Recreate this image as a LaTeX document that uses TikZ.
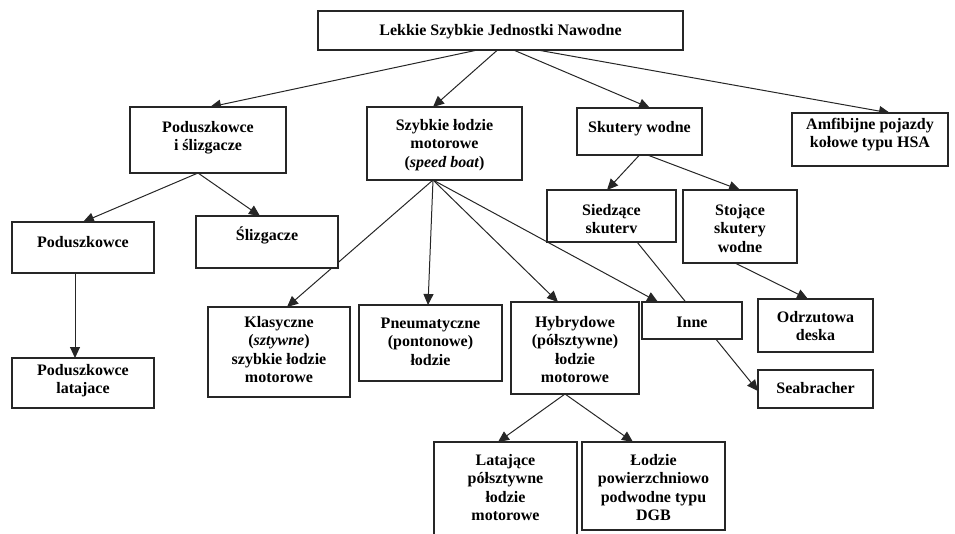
\documentclass[tikz,border=0pt]{standalone}
\usepackage{fontspec}
\setmainfont{Liberation Serif}
\usetikzlibrary{arrows.meta}
\pgfdeclarelayer{bg}
\pgfsetlayers{bg,main}
\tikzset{
  boxst/.style={draw=black!85, line width=1.1pt, fill=white, inner sep=0pt, outer sep=0pt,
    font=\fontsize{16}{18.5}\selectfont\bfseries},
  arr/.style={draw=black!85, line width=1pt, -{Triangle[length=11pt,width=10pt]}},
  ln/.style={draw=black!85, line width=1pt}
}
\newcommand\bx[7]{\node[boxst, anchor=north west] (#1) at (#2,#3)
  {\parbox[t][\dimexpr#5pt-#3pt\relax][t]{\dimexpr#4pt-#2pt\relax}{\centering\rule{0pt}{#6pt}#7}};}
\begin{document}
\begin{tikzpicture}[x=1pt,y=-1pt]
\useasboundingbox (0,0) rectangle (955,533);
\bx{top}{318}{11}{683}{50}{24}{Lekkie Szybkie Jednostki Nawodne}
\bx{pis}{130}{107}{286}{173}{25}{Poduszkowce\\ i ślizgacze}
\bx{szyb}{367}{107}{522}{180}{23}{Szybkie łodzie\\ motorowe\\ (\textit{speed boat})}
\bx{skut}{577}{108}{702}{155}{24}{Skutery wodne}
\bx{amf}{792}{113}{948}{166}{16}{Amfibijne pojazdy\\ kołowe typu HSA}
\bx{pod}{12}{222}{154}{273}{25}{Poduszkowce}
\bx{sliz}{196}{216}{338}{268}{24}{Ślizgacze}
\bx{sied}{547}{190}{676}{242}{25}{Siedzące\\ skuterv}
\bx{stoj}{683}{190}{797}{263}{25}{Stojące\\ skutery\\ wodne}
\bx{lat}{12}{358}{154}{408}{17}{Poduszkowce\\ latajace}
\bx{klas}{208}{307}{350}{397}{20}{Klasyczne\\ (\textit{sztywne})\\ szybkie łodzie\\ motorowe}
\bx{pneu}{359}{305}{502}{381}{23}{Pneumatyczne\\ (pontonowe)\\ łodzie}
\bx{hyb}{511}{302}{639}{394}{25}{Hybrydowe\\ (półsztywne)\\ łodzie\\ motorowe}
\bx{inne}{642}{302}{742}{339}{25}{Inne}
\bx{odrz}{758}{299}{873}{352}{23}{Odrzutowa\\ deska}
\bx{seab}{758}{370}{873}{408}{23}{Seabracher}
\bx{latp}{434}{442}{577}{545}{23}{Latające\\ półsztywne\\ łodzie\\ motorowe}
\bx{lodz}{582}{442}{725}{530}{23}{Łodzie\\ powierzchniowo\\ podwodne typu\\ DGB}
\begin{pgfonlayer}{bg}
\draw[arr] ([xshift=-23pt]top.south) -- ([xshift=2pt]pis.north);
\draw[arr] ([xshift=-3pt]top.south) -- ([xshift=-11.5pt]szyb.north);
\draw[arr] ([xshift=13pt]top.south) -- ([xshift=10.5pt]skut.north);
\draw[arr] ([xshift=37pt]top.south) -- ([xshift=20pt]amf.north);
\draw[arr] ([xshift=-10pt]pis.south) -- (pod.north);
\draw[arr] ([xshift=-10pt]pis.south) -- ([xshift=-7pt]sliz.north);
\draw[arr] ([xshift=-8pt]pod.south) -- ([xshift=-8pt]lat.north);
\draw[arr] ([xshift=-11.5pt]szyb.south) -- ([xshift=8pt]klas.north);
\draw[arr] ([xshift=-11.5pt]szyb.south) -- ([xshift=-2.5pt]pneu.north);
\draw[arr] ([xshift=-11.5pt]szyb.south) -- ([xshift=-17pt]hyb.north);
\draw[arr] ([xshift=-11.5pt]szyb.south) -- ([xshift=-34pt]inne.north);
\draw[arr] (skut.south) -- ([xshift=-4.5pt]sied.north);
\draw[arr] ([xshift=8pt]skut.south) -- (stoj.north);
\draw[arr] ([xshift=25.5pt]sied.south) -- ([yshift=-2pt]seab.west);
\draw[arr] ([xshift=-5pt]stoj.south) -- ([xshift=-7.5pt]odrz.north);
\draw[arr] ([xshift=-10pt]hyb.south) -- ([xshift=-7.5pt]latp.north);
\draw[arr] ([xshift=-10pt]hyb.south) -- ([xshift=-20.5pt]lodz.north);
\end{pgfonlayer}
\end{tikzpicture}
\end{document}
